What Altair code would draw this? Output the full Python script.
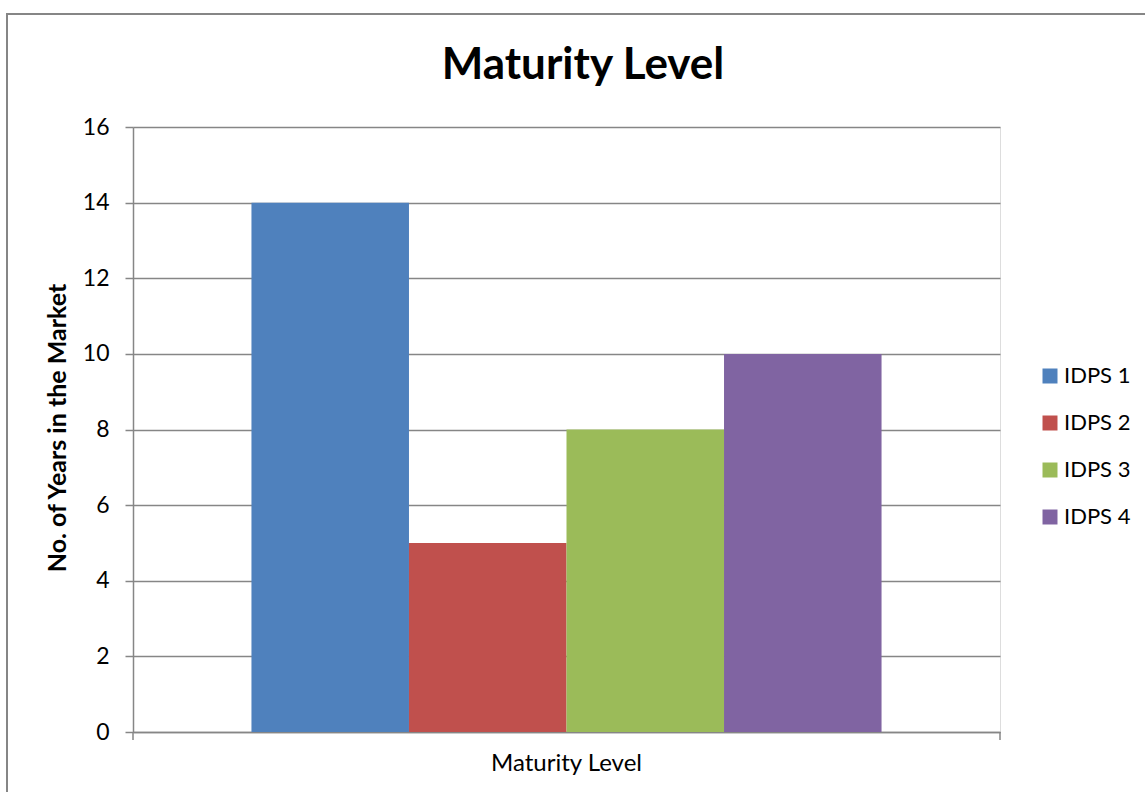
import altair as alt
import pandas as pd

chart_title = ["Maturity Level"]
categories = ["Maturity Level", "Maturity Level", "Maturity Level", "Maturity Level"]
series = ["IDPS 1", "IDPS 2", "IDPS 3", "IDPS 4"]
values = [14, 5, 8, 10]
colors = ["#4F81BD", "#C0504D", "#9BBB59", "#8064A2"]
y_ticks = [0, 2, 4, 6, 8, 10, 12, 14, 16]

df = pd.DataFrame({"category": categories, "series": series, "value": values})

W, H = 867, 605
FONT = "Lato"
GRAY = "#868686"

bars = alt.Chart(df).mark_bar().encode(
    x=alt.X("category:N",
            scale=alt.Scale(paddingInner=0, paddingOuter=0.188),
            axis=alt.Axis(title=None, labelAngle=0, ticks=False, domain=True,
                          domainColor=GRAY, domainWidth=1.5, labelFontSize=24,
                          labelPadding=19, labelColor="black", labelFont=FONT)),
    xOffset=alt.XOffset("series:N", scale=alt.Scale(paddingInner=0, paddingOuter=0)),
    y=alt.Y("value:Q",
            scale=alt.Scale(domain=[0, 16], nice=False),
            axis=alt.Axis(values=y_ticks, title="No. of Years in the Market",
                          titleFont=FONT, titleFontSize=25, titleFontWeight="bold",
                          titleColor="black", titleX=-76, titleY=H / 2 - 2,
                          titleAlign="center", titleBaseline="middle", titleAngle=-90,
                          labelFont=FONT, labelFontSize=23, labelColor="black",
                          labelPadding=16, tickSize=8, tickColor=GRAY, tickWidth=1.5,
                          domainColor=GRAY, domainWidth=1.5,
                          grid=True, gridColor=GRAY, gridWidth=1.3)),
    color=alt.Color("series:N",
                    scale=alt.Scale(domain=series, range=colors),
                    legend=alt.Legend(title=None, orient="none", legendX=906, legendY=238,
                                      padding=0, symbolType="square", symbolSize=225,
                                      symbolStrokeWidth=0, labelFont=FONT,
                                      labelFontSize=22, labelColor="black",
                                      labelOffset=3, rowPadding=25)),
)

frame_df = pd.DataFrame({"k": [0]})
title_df = pd.DataFrame({"t": chart_title})
title = alt.Chart(title_df).mark_text(font=FONT, fontSize=44, fontWeight="bold",
                                      color="black", align="center",
                                      baseline="alphabetic").encode(
    text="t:N", x=alt.value(450), y=alt.value(-48))
border = alt.Chart(frame_df).mark_rect(fill=None, stroke=GRAY, strokeWidth=2).encode(
    x=alt.value(-126), x2=alt.value(1145 - 133 + 20),
    y=alt.value(-113), y2=alt.value(792 - 127 + 20))
tick_l = alt.Chart(frame_df).mark_rule(color=GRAY, strokeWidth=1.5).encode(
    x=alt.value(0), y=alt.value(H), y2=alt.value(H + 8))
tick_r = alt.Chart(frame_df).mark_rule(color=GRAY, strokeWidth=1.5).encode(
    x=alt.value(W), y=alt.value(H), y2=alt.value(H + 8))

chart = alt.layer(bars, tick_l, tick_r, border, title).properties(
    width=W, height=H,
    autosize=alt.AutoSizeParams(type="none"),
    padding={"left": 133, "top": 127, "right": 145, "bottom": 60},
).configure_view(stroke=None).configure(background="white")

chart.save("out.html", embed_options={"renderer": "svg", "actions": False})
